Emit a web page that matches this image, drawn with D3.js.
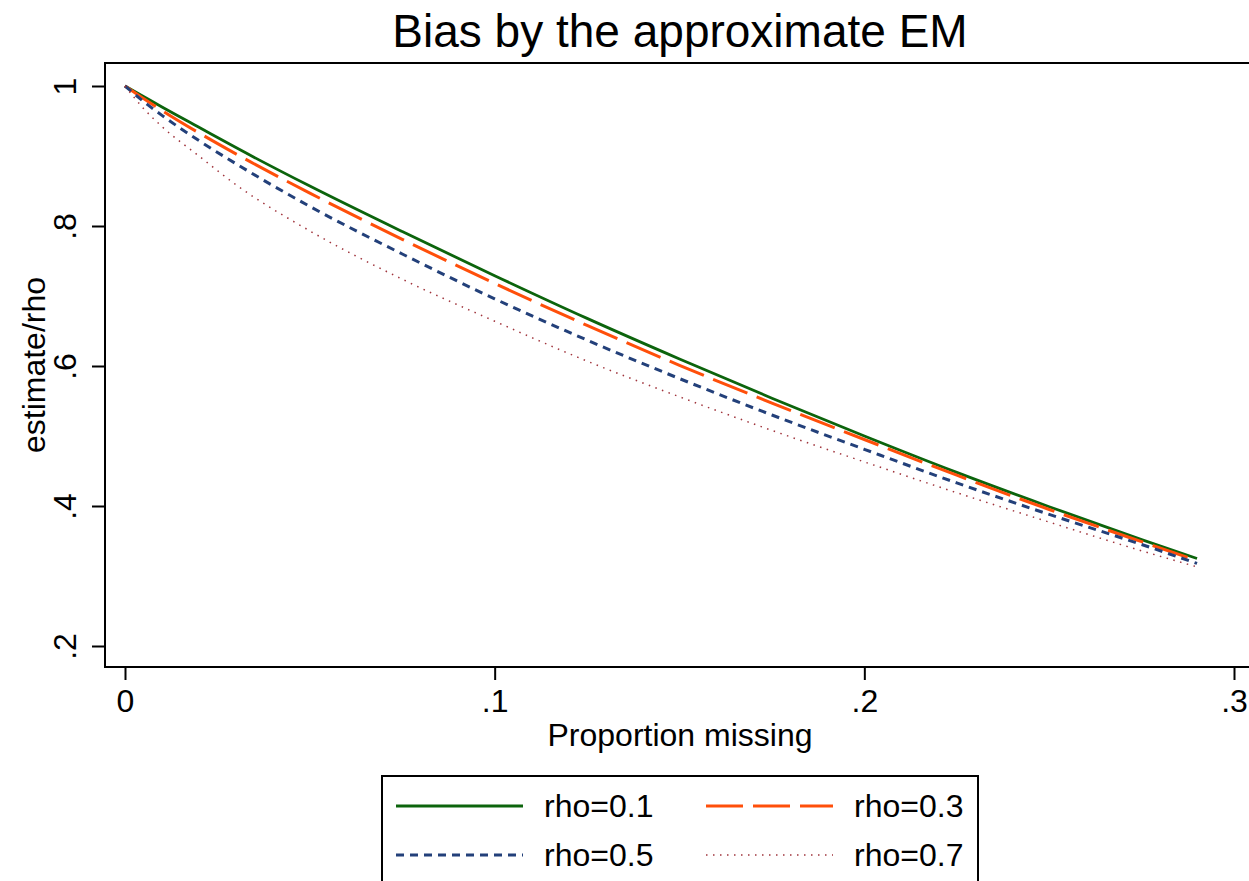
<!DOCTYPE html>
<html><head><meta charset="utf-8">
<script src="https://cdn.jsdelivr.net/npm/d3@7"></script>
<style>
html,body{margin:0;padding:0;background:#fff;}
svg{display:block;font-family:"Liberation Sans",Arial,sans-serif;}
</style></head>
<body><svg id="c" width="1249" height="881"></svg>
<script>
const pMissing = [0, 0.005, 0.01, 0.02, 0.03, 0.05, 0.075, 0.1, 0.125, 0.15, 0.175, 0.2, 0.225, 0.25, 0.275, 0.29];
const rho01 = [1, 0.985, 0.970, 0.941, 0.912, 0.857, 0.792, 0.729, 0.668, 0.610, 0.554, 0.500, 0.448, 0.399, 0.352, 0.325];
const rho03 = [1, 0.982, 0.965, 0.933, 0.903, 0.847, 0.781, 0.718, 0.658, 0.601, 0.547, 0.495, 0.444, 0.395, 0.349, 0.322];
const rho05 = [1, 0.978, 0.958, 0.922, 0.889, 0.828, 0.760, 0.696, 0.637, 0.582, 0.530, 0.481, 0.433, 0.388, 0.345, 0.318];
const rho07 = [1, 0.968, 0.942, 0.900, 0.859, 0.793, 0.724, 0.664, 0.607, 0.556, 0.508, 0.463, 0.419, 0.377, 0.336, 0.313];
const seriesNames = ["rho=0.1", "rho=0.3", "rho=0.5", "rho=0.7"];
const xTicks = [0, 0.1, 0.2, 0.3];
const xTickLabels = ["0", ".1", ".2", ".3"];
const yTicks = [0.2, 0.4, 0.6, 0.8, 1];
const yTickLabels = [".2", ".4", ".6", ".8", "1"];
const titleText = "Bias by the approximate EM";
const xTitle = "Proportion missing";
const yTitle = "estimate/rho";

const series = [rho01, rho03, rho05, rho07];
const styles = [
  {color:"#0c640c", width:2.8, dash:null},
  {color:"#ff4f0a", width:3, dash:"37,10"},
  {color:"#23407a", width:3, dash:"8,6"},
  {color:"#a0343c", width:1.5, dash:"1.5,5.5"}
];

const svg = d3.select("#c");
const L = 105, R = 1252, T = 63, B = 667;
const x = d3.scaleLinear().domain([0, 0.3]).range([125, 1234]);
const y = d3.scaleLinear().domain([0.2, 1]).range([646, 86]);

// frame
svg.append("rect").attr("x", L).attr("y", T).attr("width", R - L).attr("height", B - T)
  .attr("fill", "none").attr("stroke", "#000").attr("stroke-width", 2);

// axes
const xAxis = d3.axisBottom(x).tickValues(xTicks).tickSize(13).tickFormat((d,i)=>xTickLabels[i]);
const gx = svg.append("g").attr("transform", `translate(0,${B})`).call(xAxis);
gx.select(".domain").remove();
gx.selectAll("line").attr("stroke", "#000").attr("stroke-width", 2);
gx.selectAll("text").attr("font-size", 32).attr("fill", "#000").attr("font-family", "Liberation Sans, Arial, sans-serif")
  .attr("dy", null).attr("y", 45);

const yAxis = d3.axisLeft(y).tickValues(yTicks).tickSize(13).tickFormat((d,i)=>yTickLabels[i]);
const gy = svg.append("g").attr("transform", `translate(${L},0)`).call(yAxis);
gy.select(".domain").remove();
gy.selectAll("line").attr("stroke", "#000").attr("stroke-width", 2);
gy.selectAll("text").attr("font-size", 32).attr("fill", "#000").attr("font-family", "Liberation Sans, Arial, sans-serif")
  .attr("x", null).attr("dy", null).attr("text-anchor", "middle")
  .attr("transform", "translate(-29,0) rotate(-90)");

// lines
const line = d3.line().x((d,i)=>x(pMissing[i])).y(d=>y(d)).curve(d3.curveMonotoneX);
series.forEach((s, k) => {
  svg.append("path").datum(s).attr("d", line).attr("fill", "none")
    .attr("stroke", styles[k].color).attr("stroke-width", styles[k].width)
    .attr("stroke-dasharray", styles[k].dash);
});

// titles
svg.append("text").attr("x", 680).attr("y", 47).attr("text-anchor", "middle")
  .attr("font-size", 46).text(titleText);
svg.append("text").attr("x", 680).attr("y", 746).attr("text-anchor", "middle")
  .attr("font-size", 32).text(xTitle);
svg.append("text").attr("transform", `translate(45,365) rotate(-90)`).attr("text-anchor", "middle")
  .attr("font-size", 32).text(yTitle);

// legend
svg.append("rect").attr("x", 382).attr("y", 776).attr("width", 596).attr("height", 130)
  .attr("fill", "none").attr("stroke", "#000").attr("stroke-width", 2);
const legPos = [
  {lx:396, tx:544, y:806},
  {lx:706, tx:854, y:806},
  {lx:396, tx:544, y:855},
  {lx:706, tx:854, y:855}
];
legPos.forEach((p, k) => {
  svg.append("line").attr("x1", p.lx).attr("x2", p.lx + 127).attr("y1", p.y).attr("y2", p.y)
    .attr("stroke", styles[k].color).attr("stroke-width", styles[k].width)
    .attr("stroke-dasharray", styles[k].dash);
  svg.append("text").attr("x", p.tx).attr("y", p.y + 11).attr("font-size", 32).text(seriesNames[k]);
});
</script></body></html>
